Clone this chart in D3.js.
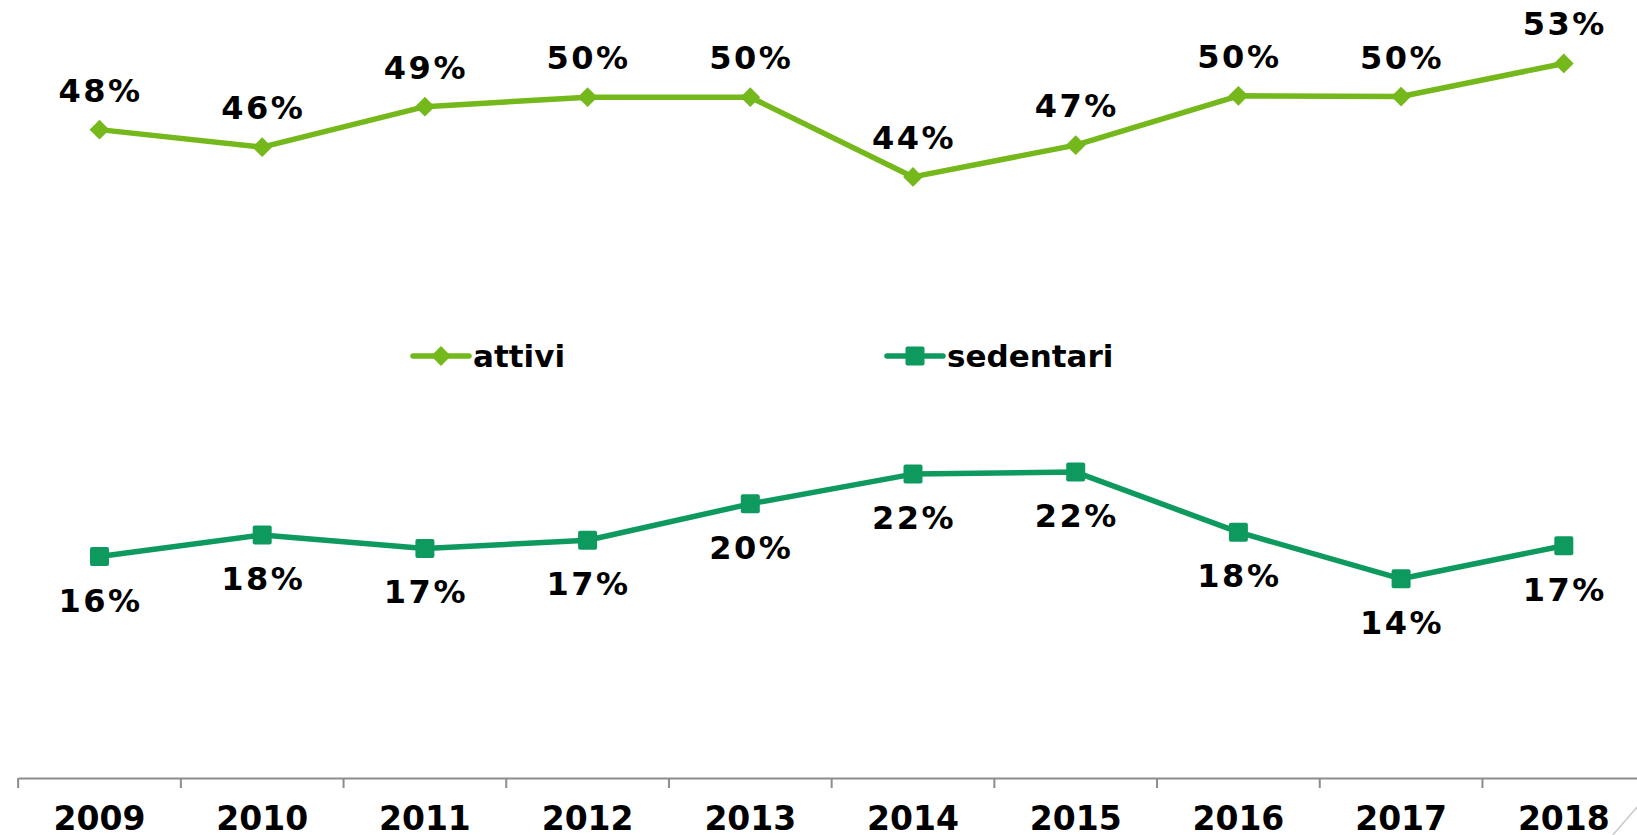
<!DOCTYPE html>
<html>
<head>
<meta charset="utf-8">
<script src="https://cdn.jsdelivr.net/npm/d3@7"></script>
<style>
	body { margin: 0; background: #fff; }
	text { font-family: "DejaVu Sans", Verdana, sans-serif; font-weight: bold; fill: #000; }
</style>
</head>
<body>
<div id="chart"></div>
<script>
var years = ['2009','2010','2011','2012','2013','2014','2015','2016','2017','2018'];
var attivi = [47.7, 46.4, 49.4, 50.1, 50.1, 44.2, 46.55, 50.2, 50.15, 52.6];
var sedentari = [16.1, 17.7, 16.7, 17.3, 20.0, 22.2, 22.35, 17.9, 14.45, 16.9];
var seriesNames = ['attivi', 'sedentari'];
var seriesColors = ['#74b81b', '#0e9a5f'];

var width = 1637, height = 835;

var svg = d3.select('#chart').append('svg')
	.attr('width', width)
	.attr('height', height);

// band starts at the first tick, runs off the right edge like the original
var x = d3.scaleBand().domain(years).range([18.15, 18.15 + 162.7 * years.length]).padding(0);
var y = d3.scaleLinear().domain([0, 57]).range([774, 4]);
var cx = function(d, i) { return x(years[i]) + x.bandwidth() / 2; };

// x axis
var axis = svg.append('g')
	.attr('transform', 'translate(0,778)')
	.call(d3.axisBottom(x).tickSizeInner(0).tickSizeOuter(0).tickPadding(29));
axis.select('.domain').attr('stroke', '#8c8c8c').attr('stroke-width', 2);
axis.selectAll('text').style('font-size', '33px').attr('fill', '#000');

// ticks sit between the categories
var bounds = years.map(function(d) { return x(d); }).concat([x(years[years.length - 1]) + x.bandwidth()]);
axis.selectAll('line.sep').data(bounds).enter().append('line')
	.attr('class', 'sep')
	.attr('x1', function(d) { return d; })
	.attr('x2', function(d) { return d; })
	.attr('y1', 0).attr('y2', 10)
	.attr('stroke', '#8c8c8c').attr('stroke-width', 2);

// frame corner bottom right
svg.append('line')
	.attr('x1', 1612).attr('y1', 836).attr('x2', 1638).attr('y2', 806)
	.attr('stroke', '#c8c8c8').attr('stroke-width', 1.5);

var line = d3.line().x(cx).y(function(d) { return y(d); });

// attivi
svg.append('path').datum(attivi)
	.attr('d', line).attr('fill', 'none')
	.attr('stroke', seriesColors[0]).attr('stroke-width', 5.5).attr('stroke-linejoin', 'round');

svg.selectAll('rect.att').data(attivi).enter().append('rect')
	.attr('class', 'att')
	.attr('x', -7).attr('y', -7).attr('width', 14).attr('height', 14)
	.attr('transform', function(d, i) { return 'translate(' + cx(d, i) + ',' + y(d) + ') rotate(45)'; })
	.attr('fill', seriesColors[0]);

svg.selectAll('text.att').data(attivi).enter().append('text')
	.attr('class', 'att')
	.attr('x', function(d, i) { return cx(d, i) + 1; })
	.attr('y', function(d) { return y(d) - 28; })
	.attr('text-anchor', 'middle')
	.style('font-size', '32px').style('letter-spacing', '2.5px')
	.text(function(d) { return Math.round(d) + '%'; });

// sedentari
svg.append('path').datum(sedentari)
	.attr('d', line).attr('fill', 'none')
	.attr('stroke', seriesColors[1]).attr('stroke-width', 5.5).attr('stroke-linejoin', 'round');

svg.selectAll('rect.sed').data(sedentari).enter().append('rect')
	.attr('class', 'sed')
	.attr('x', function(d, i) { return cx(d, i) - 9.5; })
	.attr('y', function(d) { return y(d) - 9.5; })
	.attr('width', 19).attr('height', 19).attr('rx', 2)
	.attr('fill', seriesColors[1]);

svg.selectAll('text.sed').data(sedentari).enter().append('text')
	.attr('class', 'sed')
	.attr('x', function(d, i) { return cx(d, i) + 1; })
	.attr('y', function(d) { return y(d) + 55; })
	.attr('text-anchor', 'middle')
	.style('font-size', '32px').style('letter-spacing', '2.5px')
	.text(function(d) { return Math.round(d) + '%'; });

// legend
var legendX = [413, 887];
var legend = svg.selectAll('g.legend').data(seriesNames).enter().append('g')
	.attr('class', 'legend')
	.attr('transform', function(d, i) { return 'translate(' + legendX[i] + ',356)'; });

legend.append('line')
	.attr('x1', 0).attr('x2', 56).attr('y1', 0).attr('y2', 0)
	.attr('stroke', function(d, i) { return seriesColors[i]; })
	.attr('stroke-width', 5.5).attr('stroke-linecap', 'round');

legend.filter(function(d, i) { return i == 0; }).append('rect')
	.attr('x', -7).attr('y', -7).attr('width', 14).attr('height', 14)
	.attr('transform', 'translate(28,0) rotate(45)')
	.attr('fill', seriesColors[0]);

legend.filter(function(d, i) { return i == 1; }).append('rect')
	.attr('x', 18.5).attr('y', -9.5).attr('width', 19).attr('height', 19).attr('rx', 2)
	.attr('fill', seriesColors[1]);

legend.append('text')
	.attr('x', 60).attr('y', 11)
	.style('font-size', '31px')
	.text(function(d) { return d; });
</script>
</body>
</html>
